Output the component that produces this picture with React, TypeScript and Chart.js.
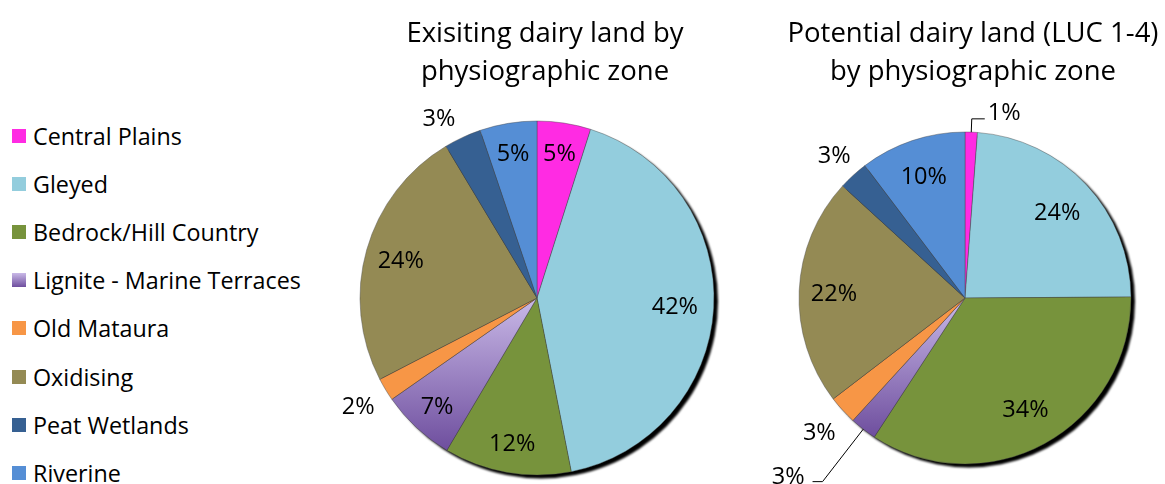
import React, { useEffect, useRef } from "react";
import { Chart, registerables } from "chart.js";

Chart.register(...registerables);

// ---------- data ----------
const categories = [
  "Central Plains",
  "Gleyed",
  "Bedrock/Hill Country",
  "Lignite - Marine Terraces",
  "Old Mataura",
  "Oxidising",
  "Peat Wetlands",
  "Riverine",
];
const existingValues = [4.9, 42.0, 11.6, 6.8, 2.1, 24.0, 3.4, 5.2];
const potentialValues = [1.2, 23.7, 34.3, 2.6, 2.8, 22.2, 2.9, 10.3];
const existingTitle = ["Exisiting dairy land by", "physiographic zone"];
const potentialTitle = ["Potential dairy land (LUC 1-4)", "by physiographic zone"];

// ---------- styles ----------
const sliceColors = ["#FF2BE3", "#93CDDD", "#77933C", "#A590CC", "#F79646", "#948A54", "#366092", "#558ED5"];
const gradientIndex = 3;
const gradientStops = ["#C9B9E7", "#6E4E9E"];
const FONT = "'Open Sans', 'DejaVu Sans', sans-serif";

type Place =
  | { mode: "in"; k: number; da?: number }
  | { mode: "out"; k: number; da?: number }
  | { mode: "leader"; k: number; dir: 1 | -1; da?: number };

const existingPlaces: Place[] = [
  { mode: "in", k: 0.83 },
  { mode: "in", k: 0.78 },
  { mode: "in", k: 0.83 },
  { mode: "in", k: 0.83 },
  { mode: "out", k: 1.18 },
  { mode: "in", k: 0.8 },
  { mode: "out", k: 1.16, da: -3.7 },
  { mode: "in", k: 0.83 },
];
const potentialPlaces: Place[] = [
  { mode: "leader", k: 1.08, dir: 1 },
  { mode: "in", k: 0.76 },
  { mode: "in", k: 0.76 },
  { mode: "leader", k: 1.4, dir: -1 },
  { mode: "out", k: 1.19 },
  { mode: "in", k: 0.79 },
  { mode: "out", k: 1.17 },
  { mode: "in", k: 0.78 },
];

function makeConfig(values: number[], title: string[], places: Place[], radius: number, padding: any): any {
  const total = values.reduce((a, b) => a + b, 0);

  const bg = (ctx: any) => {
    const i = ctx.dataIndex;
    if (i !== gradientIndex) return sliceColors[i];
    const chart = ctx.chart;
    const area = chart.chartArea;
    if (!area) return sliceColors[i];
    const cy = (area.top + area.bottom) / 2;
    let before = 0;
    for (let j = 0; j < i; j++) before += values[j];
    const a0 = -Math.PI / 2 + (2 * Math.PI * before) / total;
    const a1 = a0 + (2 * Math.PI * values[i]) / total;
    const ys = [cy, cy + radius * Math.sin(a0), cy + radius * Math.sin(a1)];
    if (a0 < Math.PI / 2 && a1 > Math.PI / 2) ys.push(cy + radius);
    if (a1 > 1.5 * Math.PI) ys.push(cy - radius);
    const g = chart.ctx.createLinearGradient(0, Math.min(...ys), 0, Math.max(...ys));
    g.addColorStop(0, gradientStops[0]);
    g.addColorStop(1, gradientStops[1]);
    return g;
  };

  const shadowPlugin = {
    id: "pieShadow",
    beforeDatasetsDraw(chart: any) {
      const arc = chart.getDatasetMeta(0).data[0];
      if (!arc) return;
      const c = chart.ctx;
      c.save();
      c.filter = "blur(1.2px)";
      c.fillStyle = "#000";
      c.beginPath();
      c.arc(arc.x + 4, arc.y + 3.5, arc.outerRadius, 0, Math.PI * 2);
      c.fill();
      c.restore();
    },
  };

  const titlePlugin = {
    id: "pieTitle",
    afterDraw(chart: any) {
      const area = chart.chartArea;
      const cx = (area.left + area.right) / 2 + 8;
      const c = chart.ctx;
      c.save();
      c.fillStyle = "#000";
      c.font = `27.5px ${FONT}`;
      c.textAlign = "center";
      c.textBaseline = "alphabetic";
      title.forEach((t, i) => c.fillText(t, cx, 42 + i * 38.3));
      c.restore();
    },
  };

  const labelPlugin = {
    id: "pieLabels",
    afterDatasetsDraw(chart: any) {
      const meta = chart.getDatasetMeta(0);
      const c = chart.ctx;
      const size = 23.5;
      c.save();
      c.fillStyle = "#000";
      c.strokeStyle = "#000";
      c.lineWidth = 1;
      c.font = `${size}px ${FONT}`;
      c.textBaseline = "alphabetic";
      meta.data.forEach((arc: any, i: number) => {
        const p = places[i];
        const mid = (arc.startAngle + arc.endAngle) / 2 + ((p.da || 0) * Math.PI) / 180;
        const r = arc.outerRadius;
        const text = Math.round((values[i] / total) * 100) + "%";
        const cos = Math.cos(mid);
        const sin = Math.sin(mid);
        if (p.mode === "leader") {
          const sx = arc.x + cos * r;
          const sy = arc.y + sin * r;
          const ex = arc.x + cos * r * p.k;
          const ey = arc.y + sin * r * p.k;
          const hx = ex + p.dir * (p.dir > 0 ? 13 : 10);
          c.beginPath();
          c.moveTo(sx, sy);
          c.lineTo(ex, ey);
          c.lineTo(hx, ey);
          c.stroke();
          c.textAlign = p.dir > 0 ? "left" : "right";
          c.fillText(text, hx + p.dir * (p.dir > 0 ? 3 : 8), ey + (p.dir > 0 ? 1 : 2));
        } else {
          const x = arc.x + cos * r * p.k;
          const y = arc.y + sin * r * p.k;
          c.textAlign = "center";
          c.fillText(text, x, y + size * 0.357);
        }
      });
      c.restore();
    },
  };

  return {
    type: "pie",
    data: {
      labels: categories,
      datasets: [
        {
          data: values,
          backgroundColor: bg,
          borderColor: "rgba(70,70,70,0.7)",
          borderWidth: 0.6,
        },
      ],
    },
    options: {
      responsive: false,
      animation: false,
      events: [],
      radius,
      layout: { padding },
      plugins: {
        legend: { display: false },
        tooltip: { enabled: false },
        title: { display: false },
      },
    },
    plugins: [shadowPlugin, labelPlugin, titlePlugin],
  };
}

function PieCanvas(props: { config: () => any; left: number; width: number }) {
  const ref = useRef<HTMLCanvasElement>(null);
  useEffect(() => {
    if (!ref.current) return;
    const chart = new Chart(ref.current, props.config());
    return () => chart.destroy();
  }, []);
  return (
    <canvas
      ref={ref}
      width={props.width}
      height={484}
      style={{ position: "absolute", left: props.left, top: 0, width: props.width, height: 484 }}
    />
  );
}

function Legend() {
  return (
    <div style={{ position: "absolute", left: 12, top: 112 }}>
      {categories.map((name, i) => (
        <div key={name} style={{ height: 48.1, display: "flex", alignItems: "center" }}>
          <div
            style={{
              width: 14,
              height: 14,
              flex: "none",
              background:
                i === gradientIndex
                  ? `linear-gradient(${gradientStops[0]}, ${gradientStops[1]})`
                  : sliceColors[i],
            }}
          />
          <span style={{ marginLeft: 7, font: `23.3px ${FONT}`, color: "#000", whiteSpace: "nowrap" }}>{name}</span>
        </div>
      ))}
    </div>
  );
}

export default function App() {
  return (
    <div
      style={{
        position: "absolute",
        left: 0,
        top: 0,
        width: 1165,
        height: 484,
        background: "#fff",
        overflow: "hidden",
      }}
    >
      <Legend />
      <PieCanvas
        left={330}
        width={425}
        config={() =>
          makeConfig(existingValues, existingTitle, existingPlaces, 177, { left: 0, right: 11, top: 121, bottom: 9 })
        }
      />
      <PieCanvas
        left={755}
        width={410}
        config={() =>
          makeConfig(potentialValues, potentialTitle, potentialPlaces, 166, { left: 10, right: 0, top: 121, bottom: 9 })
        }
      />
    </div>
  );
}
